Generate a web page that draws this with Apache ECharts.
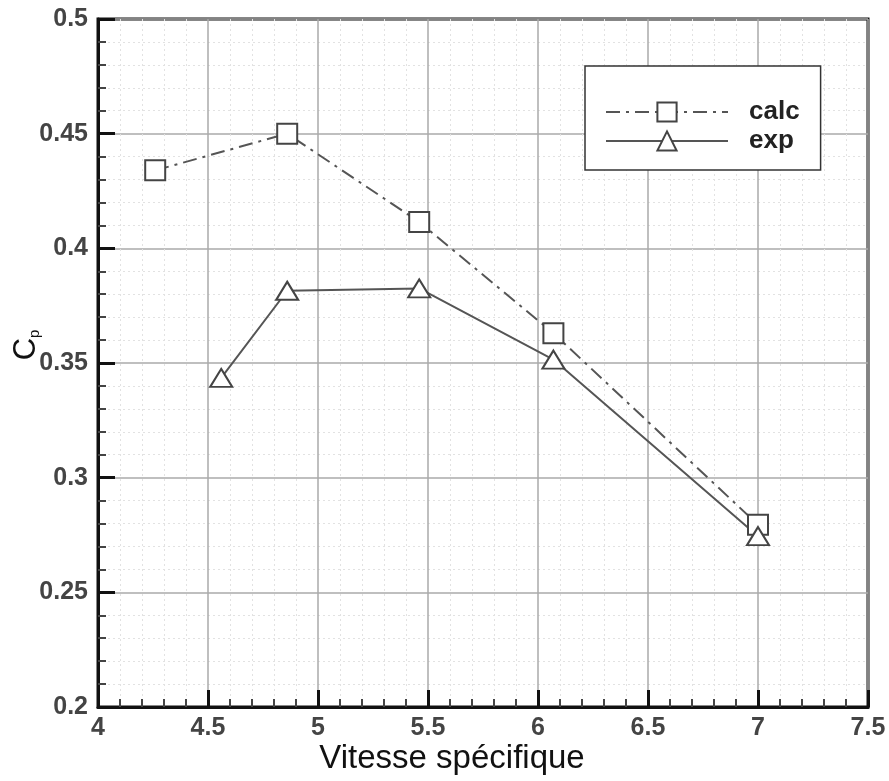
<!DOCTYPE html>
<html><head><meta charset="utf-8">
<script src="https://cdn.jsdelivr.net/npm/echarts@6/dist/echarts.min.js"></script>
<style>html,body{margin:0;padding:0;background:#fff}#c{width:889px;height:781px}</style>
</head><body><div id="c"></div>
<script>
const calcX = [4.26, 4.86, 5.46, 6.07, 7.0];
const calcY = [0.434, 0.450, 0.4115, 0.363, 0.2795];
const expX = [4.56, 4.86, 5.46, 6.07, 7.0];
const expY = [0.3435, 0.3815, 0.3825, 0.3515, 0.2745];
const xTicks = [4, 4.5, 5, 5.5, 6, 6.5, 7, 7.5];
const yTicks = [0.2, 0.25, 0.3, 0.35, 0.4, 0.45, 0.5];

const font = 'Liberation Sans, Arial, sans-serif';
const chart = echarts.init(document.getElementById('c'));
const pair = (xs, ys) => xs.map((x, i) => [x, ys[i]]);
const tickStyle = {inside: true, length: 17, lineStyle: {color: '#111', width: 3}};
const minorStyle = {show: true, splitNumber: 5, length: 8, lineStyle: {color: '#444', width: 2}};
chart.setOption({
  animation: false,
  grid: {left: 98, right: 21, top: 19, bottom: 74, containLabel: false, outerBoundsMode: 'none',
    show: true, borderColor: '#111', borderWidth: 3, backgroundColor: 'transparent'},
  xAxis: {
    type: 'value', min: 4, max: 7.5, interval: 0.5,
    name: 'Vitesse spécifique', nameLocation: 'middle', nameGap: 35, nameMoveOverlap: false,
    nameTextStyle: {fontFamily: font, fontSize: 33, color: '#111', padding: [0, 62, 0, 0]},
    axisLine: {lineStyle: {color: '#111', width: 3}},
    axisTick: tickStyle,
    minorTick: minorStyle,
    axisLabel: {fontFamily: font, fontSize: 25, fontWeight: 'bold', color: '#444', margin: 9,
      formatter: v => xTicks.includes(+v.toFixed(2)) ? String(+v.toFixed(2)) : ''},
    splitLine: {show: true, lineStyle: {color: '#aaa', width: 1.5}},
    minorSplitLine: {show: true, lineStyle: {color: '#e2e2e2', width: 1, type: [2, 3]}}
  },
  yAxis: {
    type: 'value', min: 0.2, max: 0.5, interval: 0.05,
    name: '{c|C}{p|p}', nameLocation: 'middle', nameGap: 56, nameRotate: 90, nameMoveOverlap: false,
    nameTextStyle: {padding: [0, 0, 0, 36], rich: {c: {fontFamily: font, fontSize: 31, color: '#111'}, p: {fontFamily: font, fontSize: 15, color: '#111', verticalAlign: 'bottom', padding: [14, 0, 0, 0]}}},
    axisLine: {lineStyle: {color: '#111', width: 3}},
    axisTick: tickStyle,
    minorTick: minorStyle,
    axisLabel: {fontFamily: font, fontSize: 25, fontWeight: 'bold', color: '#444', margin: 10,
      formatter: v => yTicks.includes(+v.toFixed(2)) ? String(+v.toFixed(2)) : ''},
    splitLine: {show: true, lineStyle: {color: '#aaa', width: 1.5}},
    minorSplitLine: {show: true, lineStyle: {color: '#e2e2e2', width: 1, type: [2, 3]}}
  },
  legend: {
    orient: 'vertical', left: 585, top: 66,
    padding: [33, 21, 16, 20], itemGap: 3,
    backgroundColor: '#fff', borderColor: '#333', borderWidth: 1.5, borderRadius: 0,
    itemWidth: 122, itemHeight: 24,
    textStyle: {fontFamily: font, fontSize: 26, lineHeight: 26, fontWeight: 'bold', color: '#222', padding: [0, 0, 0, 16]},
    data: ['calc', 'exp']
  },
  series: [
    {name: 'calc', type: 'line', data: pair(calcX, calcY), symbol: 'rect', symbolSize: 20,
     itemStyle: {color: '#fff', borderColor: '#444', borderWidth: 2},
     lineStyle: {color: '#555', width: 2, type: [14, 6, 3, 6]}, z: 5},
    {name: 'exp', type: 'line', data: pair(expX, expY), symbol: 'triangle', symbolSize: [22, 18],
     itemStyle: {color: '#fff', borderColor: '#444', borderWidth: 2},
     lineStyle: {color: '#555', width: 2}, z: 5}
  ]
});
</script></body></html>
